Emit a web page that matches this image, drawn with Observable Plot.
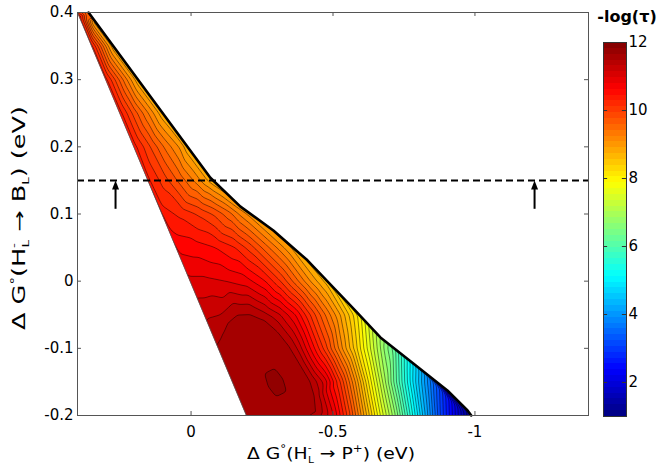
<!DOCTYPE html>
<html><head><meta charset="utf-8">
<script src="https://cdn.jsdelivr.net/npm/d3@7"></script>
<script src="https://cdn.jsdelivr.net/npm/@observablehq/plot@0.6"></script>
<style>
body{margin:0;background:#fff;}
#wrap{position:relative;width:659px;height:474px;}
#wrap svg{position:absolute;top:0;left:0;}
</style></head><body><div id="wrap"></div>
<script>
// ---- axes ----
const xTicks = [0, -0.5, -1];
const yTicks = [0.4, 0.3, 0.2, 0.1, 0, -0.1, -0.2];
const cbTicks = [2, 4, 6, 8, 10, 12];
const xDomain = [0.4, -1.4];
const yDomain = [-0.2, 0.4];
const cDomain = [1, 12];
const levelStep = 0.2;

// ---- sampled -log(tau) values, per row of ΔG(H→B): [ΔG(H→P), value] ----
const row_m020 = [[-0.195,11.7],[-0.290,11.75],[-0.399,11.65],[-0.502,11.0],[-0.561,10.0],[-0.614,8.9],[-0.667,7.8],[-0.720,6.8],[-0.772,5.6],[-0.825,4.4],[-0.878,3.2],[-0.931,2.2],[-0.977,1.3]];
const row_m015 = [[-0.146,11.65],[-0.227,11.72],[-0.368,11.72],[-0.473,11.1],[-0.526,10.2],[-0.579,9.2],[-0.625,8.2],[-0.685,7.0],[-0.738,5.9],[-0.791,4.8],[-0.843,3.8],[-0.864,3.4]];
const row_m010 = [[-0.093,11.62],[-0.174,11.68],[-0.262,11.74],[-0.310,11.7],[-0.378,11.35],[-0.420,10.8],[-0.473,10.1],[-0.526,9.3],[-0.579,8.5],[-0.632,7.6],[-0.685,6.7],[-0.716,6.3]];
const row_m005 = [[-0.044,11.35],[-0.104,11.4],[-0.262,11.45],[-0.315,11.2],[-0.368,10.8],[-0.420,10.2],[-0.473,9.6],[-0.526,9.0],[-0.579,8.3],[-0.593,8.1]];
const row_000 = [[0.006,11.05],[-0.051,11.05],[-0.121,11.0],[-0.192,10.9],[-0.262,10.6],[-0.315,10.2],[-0.368,9.7],[-0.420,9.2],[-0.455,8.9],[-0.480,8.7]];
const row_005 = [[0.055,10.75],[-0.015,10.7],[-0.086,10.6],[-0.156,10.4],[-0.209,10.1],[-0.262,9.7],[-0.315,9.3],[-0.358,8.95]];
const row_010 = [[0.104,10.5],[0.037,10.35],[-0.033,10.15],[-0.086,9.95],[-0.139,9.65],[-0.174,9.35],[-0.210,9.1]];
const row_015 = [[0.154,10.45],[0.095,10.1],[0.042,9.75],[-0.015,9.35],[-0.051,9.05],[-0.077,8.85]];
const row_020 = [[0.203,10.5],[0.143,10.0],[0.090,9.55],[0.037,9.15],[0.012,8.85]];
const row_025 = [[0.252,10.5],[0.203,9.95],[0.150,9.4],[0.100,8.85]];
const row_030 = [[0.302,10.5],[0.264,9.95],[0.225,9.4],[0.187,8.85]];
const row_035 = [[0.351,10.5],[0.325,9.95],[0.300,9.4],[0.274,8.85]];
const row_039 = [[0.390,10.5],[0.367,9.7],[0.344,8.85]];
const rowY = [-0.2, -0.15, -0.1, -0.05, 0, 0.05, 0.1, 0.15, 0.2, 0.25, 0.3, 0.35, 0.39];
const rowVals = [row_m020, row_m015, row_m010, row_m005, row_000, row_005, row_010, row_015, row_020, row_025, row_030, row_035, row_039];

// 11.6 contour loop around the maximum: [ΔG_P, ΔG_B]
const loop116 = [[-0.1036,-0.0958],[-0.1095,-0.0783],[-0.1272,-0.0611],[-0.1624,-0.0486],[-0.2092,-0.0477],[-0.2561,-0.0560],[-0.3033,-0.0734],[-0.3501,-0.0983],[-0.3854,-0.1230],[-0.4206,-0.1479],[-0.4382,-0.1727],[-0.4442,-0.1974]];
const loopValue = 11.6;
// maximum and the ring just outside the 11.8 ellipse
const peak = [-0.2973, -0.1508, 11.92];
const ring = [[-0.3285,-0.1769],[-0.3386,-0.1651],[-0.3244,-0.1450],[-0.2944,-0.1284],[-0.2661,-0.1248],[-0.2564,-0.1367],[-0.2702,-0.1567],[-0.3002,-0.1732]];
const ringValue = 11.79;

// domain edges [ΔG_P, ΔG_B]
const leftEdge = [[0.40,0.40],[-0.195,-0.20]];
const rightEdge = [[0.361,0.4],[0.125,0.2645],[-0.068,0.154],[-0.174,0.111],[-0.290,0.0755],[-0.410,0.031],[-0.572,-0.041],[-0.667,-0.0838],[-0.783,-0.1225],[-0.903,-0.1628],[-0.974,-0.1926],[-0.987,-0.2]];

// dashed line and arrows
const dashedY = 0.15;
const arrowX = [0.266, -1.21];
const arrowFromY = 0.107;

// ---- build table ----
const samples = [];
rowVals.forEach((r, i) => r.forEach(([x, v]) => samples.push({x, y: rowY[i], v})));
loop116.forEach(([x, y]) => samples.push({x, y, v: loopValue}));
samples.push({x: peak[0], y: peak[1], v: peak[2]});
ring.forEach(([x, y]) => samples.push({x, y, v: ringValue}));

const thresholds = d3.range(0, 56).map(i => +(cDomain[0] + i * levelStep).toFixed(2));

const jet = t => {
  const c = v => Math.max(0, Math.min(1, v));
  const r = c(1.5 - Math.abs(4 * t - 3)), g = c(1.5 - Math.abs(4 * t - 2)), b = c(1.5 - Math.abs(4 * t - 1));
  return `rgb(${Math.round(r * 255)},${Math.round(g * 255)},${Math.round(b * 255)})`;
};
const fmt = d => String(Math.round(d * 10) / 10);

function extend(edge, dy) {
  const [a, b] = [edge[0], edge[1]];
  const [c, d] = [edge[edge.length - 2], edge[edge.length - 1]];
  const s0 = (a[0] - b[0]) / (a[1] - b[1]);
  const s1 = (c[0] - d[0]) / (c[1] - d[1]);
  return [[a[0] + s0 * dy, a[1] + dy], ...edge, [d[0] - s1 * dy, d[1] - dy]].map(([x, y]) => ({x, y}));
}
const leftMask = extend(leftEdge, 0.05);
const rightMask = extend(rightEdge, 0.05);

const font = "'DejaVu Sans', 'Liberation Sans', Arial, sans-serif";
const arrowHead = {draw(ctx) { ctx.moveTo(0, 0); ctx.lineTo(-3.5, 9); ctx.lineTo(3.5, 9); ctx.closePath(); }};
const tx = 4 / 283.9, ty = 4 / 671.7;

const main = Plot.plot({
  width: 659, height: 474,
  marginLeft: 77, marginRight: 71, marginTop: 12, marginBottom: 59,
  style: {fontFamily: font, fontSize: "15px", color: "black", background: "white", overflow: "visible"},
  x: {domain: xDomain, ticks: xTicks, tickSize: 0, tickPadding: 11, tickFormat: fmt, label: null},
  y: {domain: yDomain, ticks: yTicks, tickSize: 0, tickPadding: 4, tickFormat: fmt, label: null},
  color: {type: "linear", domain: cDomain, interpolate: jet},
  marks: [
    Plot.contour(samples, {x: "x", y: "y", fill: "v", thresholds, interpolate: "barycentric", pixelSize: 1, blur: 1, stroke: "black", strokeWidth: 0.5, strokeOpacity: 0.9, clip: true}),
    Plot.areaX(leftMask, {y: "y", x1: 0.6, x2: "x", fill: "white", clip: true}),
    Plot.areaX(rightMask, {y: "y", x1: "x", x2: -1.6, fill: "white", clip: true}),
    Plot.line(leftEdge, {x: d => d[0], y: d => d[1], stroke: "#555", strokeWidth: 0.8}),
    Plot.line(rightEdge, {x: d => d[0], y: d => d[1], stroke: "black", strokeWidth: 2.6, strokeLinejoin: "round"}),
    Plot.ruleY([dashedY], {stroke: "black", strokeWidth: 2, strokeDasharray: "7,4"}),
    Plot.ruleX(arrowX, {y1: arrowFromY, y2: dashedY - 0.008, stroke: "black", strokeWidth: 2}),
    Plot.dot(arrowX, {x: d => d, y: dashedY, symbol: arrowHead, fill: "black", stroke: "none"}),
    Plot.frame({stroke: "#555"}),
    Plot.ruleX(xTicks, {y1: yDomain[0], y2: yDomain[0] + ty, stroke: "#555"}),
    Plot.ruleX(xTicks, {y1: yDomain[1], y2: yDomain[1] - ty, stroke: "#555"}),
    Plot.ruleY(yTicks, {x1: xDomain[0], x2: xDomain[0] - tx, stroke: "#555"}),
    Plot.ruleY(yTicks, {x1: xDomain[1], x2: xDomain[1] + tx, stroke: "#555"})
  ]
});
document.getElementById("wrap").appendChild(main);

// colorbar
const nBands = 64;
const bands = d3.range(nBands).map(i => {
  const y1 = cDomain[0] + i * (cDomain[1] - cDomain[0]) / nBands;
  const y2 = cDomain[0] + (i + 1) * (cDomain[1] - cDomain[0]) / nBands;
  return {y1, y2, v: (y1 + y2) / 2};
});
const cb = Plot.plot({
  width: 70, height: 474, marginLeft: 14, marginRight: 33, marginTop: 42, marginBottom: 58,
  style: {fontFamily: font, fontSize: "15px", color: "black", background: "transparent", overflow: "visible"},
  x: {domain: [0, 1], axis: null},
  y: {domain: cDomain, axis: "right", ticks: cbTicks, tickSize: 0, tickPadding: 2, label: null},
  color: {type: "linear", domain: cDomain, interpolate: jet},
  marks: [
    Plot.rect(bands, {x1: 0, x2: 1, y1: "y1", y2: "y2", fill: "v", shapeRendering: "crispEdges"}),
    Plot.ruleY(cbTicks, {x1: 0.82, x2: 1, stroke: "#333"}),
    Plot.ruleY(cbTicks, {x1: 0, x2: 0.18, stroke: "#333"}),
    Plot.frame({stroke: "#333"})
  ]
});
cb.style.left = "589px";
document.getElementById("wrap").appendChild(cb);

// axis titles with sub/superscripts
const svg = d3.select(main);
function label(g, parts, len, fs) {
  const t = g.append("text").attr("font-family", font).attr("font-size", fs).attr("fill", "black")
    .attr("text-anchor", "start").attr("textLength", len).attr("lengthAdjust", "spacingAndGlyphs");
  parts.forEach(p => {
    const s = t.append("tspan").text(p.t);
    if (p.dy) s.attr("dy", p.dy);
    if (p.dx) s.attr("dx", p.dx);
    if (p.fs) s.attr("font-size", p.fs);
  });
  return t;
}
const xl = svg.append("g").attr("transform", "translate(247,459)");
label(xl, [{t: "Δ G"}, {t: "°", dy: -7, fs: 10}, {t: "(H", dy: 7}, {t: "-", dy: -8, fs: 9}, {t: "L", dy: 12, dx: -3, fs: 9}, {t: " → P", dy: -4}, {t: "+", dy: -7, fs: 10}, {t: ") (eV)", dy: 7}], 168, 16);
const yl = svg.append("g").attr("transform", "translate(25,330) rotate(-90)");
label(yl, [{t: "Δ G"}, {t: "°", dy: -7, fs: 10}, {t: "(H", dy: 7}, {t: "-", dy: -8, fs: 9}, {t: "L", dy: 12, dx: -3, fs: 9}, {t: " → B", dy: -4}, {t: "L", dy: 4, fs: 9}, {t: ") (eV)", dy: -4}], 224, 17);
svg.append("text").attr("x", 627).attr("y", 22).attr("text-anchor", "middle").attr("font-family", font).attr("font-weight", "bold").attr("font-size", 16).text("-log(τ)");
</script></body></html>
